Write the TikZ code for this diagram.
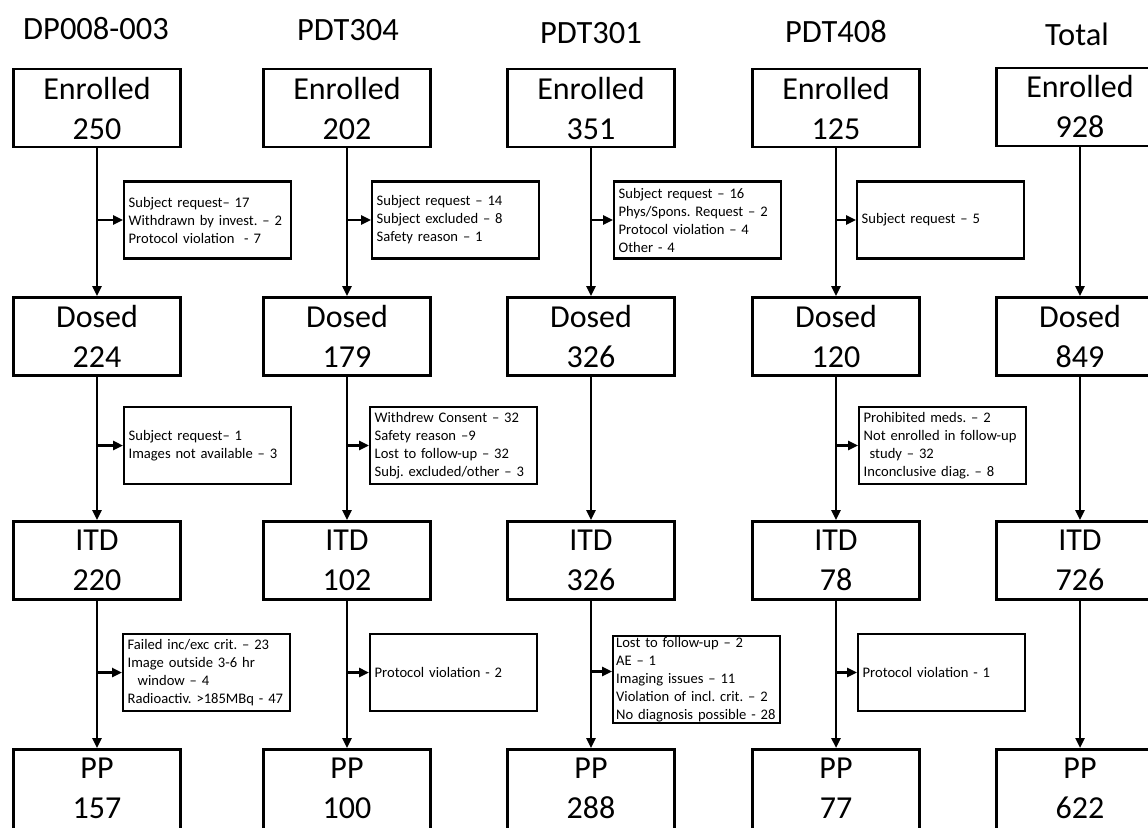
\documentclass[tikz,border=0pt]{standalone}
\usepackage{fontspec}
\setmainfont{Carlito}
\usetikzlibrary{arrows.meta,calc}
\frenchspacing
\begin{document}
\begin{tikzpicture}[x=1pt,y=-1pt,
  mainbox/.style={draw,line width=2.8pt,minimum width=167pt,minimum height=78pt,inner sep=0pt,align=center,font=\fontsize{32}{40}\selectfont},
  ppbox/.style={mainbox,minimum height=98pt,anchor=north},
  sidebox/.style={draw,line width=2.3pt,text width=158pt,minimum height=77pt,inner xsep=4.5pt,inner ysep=1pt,align=left,anchor=west,font=\fontsize{14.6}{18}\selectfont},
  head/.style={font=\fontsize{32.5}{38}\selectfont,anchor=base},
  arr/.style={line width=2.4pt,-{Triangle[length=10pt,width=9pt]}}]
\useasboundingbox (0,0) rectangle (1148,827);
\clip (0,0) rectangle (1148,827);
\fill[white] (0,0) rectangle (1148,827);

% headers
\node[head] (h1) at (96,39) {DP008-003};
\node[head] (h2) at (348,40) {PDT304};
\node[head] (h3) at (591,43) {PDT301};
\node[head] (h4) at (836,42) {PDT408};
\node[head] (h5) at (1077,45) {Total};

% main boxes
\node[mainbox] (e1) at (97,108) {Enrolled\\250};
\node[mainbox] (e2) at (347,108) {Enrolled\\202};
\node[mainbox] (e3) at (591,108) {Enrolled\\351};
\node[mainbox] (e4) at (836,108) {Enrolled\\125};
\node[mainbox] (e5) at (1080,107) {Enrolled\\928};

\node[mainbox] (d1) at (97,336.5) {Dosed\\224};
\node[mainbox] (d2) at (347,336.5) {Dosed\\179};
\node[mainbox] (d3) at (591,336.5) {Dosed\\326};
\node[mainbox] (d4) at (836,336.5) {Dosed\\120};
\node[mainbox] (d5) at (1080,336.5) {Dosed\\849};

\node[mainbox] (i1) at (97,560.5) {ITD\\220};
\node[mainbox] (i2) at (347,560.5) {ITD\\102};
\node[mainbox] (i3) at (591,560.5) {ITD\\326};
\node[mainbox] (i4) at (836,560.5) {ITD\\78};
\node[mainbox] (i5) at (1080,560.5) {ITD\\726};

\node[ppbox] (p1) at (97,748) {PP\\157\\[-20pt]\mbox{}};
\node[ppbox] (p2) at (347,748) {PP\\100\\[-20pt]\mbox{}};
\node[ppbox] (p3) at (591,748) {PP\\288\\[-20pt]\mbox{}};
\node[ppbox] (p4) at (836,748) {PP\\77\\[-20pt]\mbox{}};
\node[ppbox] (p5) at (1080,748) {PP\\622\\[-20pt]\mbox{}};

% side boxes, row 1
\node[sidebox] (s11) at (123,220) {\mbox{Subject request-- 17}\\\mbox{Withdrawn by invest. -- 2}\\\mbox{Protocol violation\ \ - 7}};
\node[sidebox] (s21) at (371,220) {\mbox{Subject request -- 14}\\\mbox{Subject excluded -- 8}\\\mbox{Safety reason -- 1}};
\node[sidebox] (s31) at (613,220) {\mbox{Subject request -- 16}\\\mbox{Phys/Spons. Request -- 2}\\\mbox{Protocol violation -- 4}\\\mbox{Other - 4}};
\node[sidebox] (s41) at (856,220) {\mbox{Subject request -- 5}};

% side boxes, row 2
\node[sidebox] (s12) at (123,445.5) {\mbox{Subject request-- 1}\\\mbox{Images not available -- 3}};
\node[sidebox] (s22) at (369,445.5) {\mbox{Withdrew Consent -- 32}\\\mbox{Safety reason --9}\\\mbox{Lost to follow-up -- 32}\\\mbox{Subj. excluded/other -- 3}};
\node[sidebox] (s42) at (858,445.5) {\mbox{Prohibited meds. -- 2}\\\mbox{Not enrolled in follow-up}\\\hspace*{6pt}\mbox{study -- 32}\\\mbox{Inconclusive diag. -- 8}};

% side boxes, row 3
\node[sidebox] (s13) at (122,672.5) {\mbox{Failed inc/exc crit. -- 23}\\\mbox{Image outside 3-6 hr}\\\hspace*{10pt}\mbox{window -- 4}\\\mbox{Radioactiv. >185MBq - 47}};
\node[sidebox] (s23) at (369,672.5) {\mbox{Protocol violation - 2}};
\node[sidebox,inner xsep=3pt,text width=161pt] (s33) at (612,679.5) {\mbox{Lost to follow-up -- 2}\\\mbox{AE -- 1}\\\mbox{Imaging issues -- 11}\\\mbox{Violation of incl. crit. -- 2}\\\mbox{No diagnosis possible - 28}};
\node[sidebox] (s43) at (857,672.5) {\mbox{Protocol violation - 1}};
\coordinate (t33) at ($(s33.north west)!0.41!(s33.south west)$);

% vertical connectors
\foreach \c in {1,...,5}{
  \draw[arr] (e\c.south) -- (d\c.north);
  \draw[arr] (d\c.south) -- (i\c.north);
  \draw[arr] (i\c.south) -- (p\c.north);
}

% side connectors
\draw[arr] (e1.south |- s11.west) -- (s11.west);
\draw[arr] (e2.south |- s21.west) -- (s21.west);
\draw[arr] (e3.south |- s31.west) -- (s31.west);
\draw[arr] (e4.south |- s41.west) -- (s41.west);
\draw[arr] (d1.south |- s12.west) -- (s12.west);
\draw[arr] (d2.south |- s22.west) -- (s22.west);
\draw[arr] (d4.south |- s42.west) -- (s42.west);
\draw[arr] (i1.south |- s13.west) -- (s13.west);
\draw[arr] (i2.south |- s23.west) -- (s23.west);
\draw[arr] (i3.south |- t33) -- (t33);
\draw[arr] (i4.south |- s43.west) -- (s43.west);
\end{tikzpicture}
\end{document}
